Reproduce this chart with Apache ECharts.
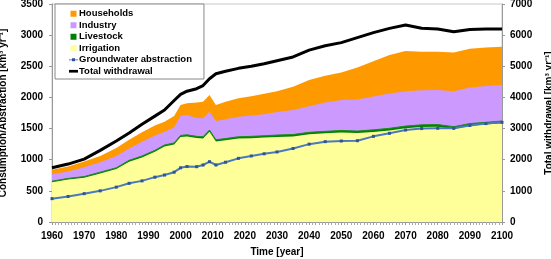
<!DOCTYPE html>
<html>
<head>
<meta charset="utf-8">
<script src="https://cdn.jsdelivr.net/npm/echarts@6/dist/echarts.min.js"></script>
<style>
html,body{margin:0;padding:0;background:#fff;}
#c{width:551px;height:259px;}
</style>
</head>
<body>
<div id="c"></div>
<script>
// Years of the sampled points
var years = [1960,1965,1970,1975,1980,1984,1988,1992,1995,1998,2000,2002,2005,2007,2009,2011,2014,2018,2022,2026,2030,2035,2040,2045,2050,2055,2060,2065,2070,2075,2080,2085,2090,2095,2100];
// Components of consumption (km3/yr), stacked: irrigation, livestock, industry, households
var irrigation = [640,683,712,780,849,968,1037,1126,1211,1245,1364,1374,1348,1342,1449,1292,1311,1340,1345,1355,1365,1374,1408,1423,1437,1427,1446,1470,1505,1525,1530,1494,1544,1564,1584];
var livestock  = [15,17,18,20,21,22,23,24,25,25,26,26,27,27,28,28,29,29,30,30,31,31,32,32,33,33,34,34,35,35,35,36,36,36,37];
var industry   = [110,110,150,160,190,190,230,240,213,250,310,317,295,295,294,300,310,321,335,345,369,393,420,465,488,505,535,561,560,555,555,570,580,585,579];
var households = [75,80,90,100,130,140,150,160,161,180,180,188,250,267,267,260,280,295,310,330,335,374,420,430,442,515,565,615,644,620,615,620,620,615,614];
// Groundwater abstraction (km3/yr, left axis)
var groundwater = [375,410,455,500,560,621,660,720,754,800,870,890,888,915,968,915,960,1022,1060,1095,1125,1180,1250,1290,1300,1305,1375,1424,1477,1500,1505,1504,1550,1580,1600];
// Total withdrawal (km3/yr, right axis)
var totalWithdrawal = [1740,1860,2020,2300,2600,2860,3140,3400,3596,3900,4100,4200,4280,4380,4600,4760,4840,4934,5000,5080,5180,5300,5520,5660,5760,5920,6080,6218,6324,6220,6200,6108,6180,6200,6196];

function pairs(v){ return years.map(function(y,i){ return [y, v[i]]; }); }
function cum(){ var arrs = arguments; return years.map(function(y,i){ var s=0; for(var k=0;k<arrs.length;k++) s+=arrs[k][i]; return [y,s]; }); }

var font = 'Liberation Sans, Arial, sans-serif';
var sq = 'path://M0,0H5V5H0Z';
function lbl(m){ return {fontFamily:font,fontWeight:'bold',fontSize:10,color:'#000',margin:m,formatter:function(v){return String(v);}}; }
var nameStyle = {fontFamily:font,fontWeight:'bold',fontSize:10,color:'#000'};
var chart = echarts.init(document.getElementById('c'), null, {renderer:'canvas'});
chart.setOption({
  animation:false,
  backgroundColor:'#fff',
  textStyle:{fontFamily:font},
  grid:{left:52,right:49,top:4,bottom:37,show:true,borderColor:'#c8c8c8',borderWidth:1,backgroundColor:'transparent',
        containLabel:false,outerBoundsMode:'none'},
  legend:{
    orient:'vertical', left:55, top:4,
    padding:[4,12,2,14], itemGap:0, itemWidth:9, itemHeight:6,
    backgroundColor:'#fff', borderColor:'#888', borderWidth:1,
    textStyle:{fontFamily:font,fontWeight:'bold',fontSize:9.5,color:'#000',lineHeight:11.5,padding:[0,0,0,-4]},
    data:[
      {name:'Households',icon:sq},
      {name:'Industry',icon:sq},
      {name:'Livestock',icon:sq},
      {name:'Irrigation',icon:sq},
      {name:'Groundwater abstraction',icon:'path://M0,2H12V3H0Z M4,0.5H8V4.5H4Z'},
      {name:'Total withdrawal',icon:'path://M0,0H10V3H0Z'}
    ]
  },
  xAxis:{
    type:'value', min:1960, max:2100, interval:10,
    name:'Time [year]', nameLocation:'middle', nameGap:25, nameTextStyle:nameStyle,
    axisLine:{show:true,lineStyle:{color:'#999'}},
    axisTick:{show:true,length:3,lineStyle:{color:'#999'}},
    minorTick:{show:true,splitNumber:10,length:3,lineStyle:{color:'#aaa'}},
    splitLine:{show:false},
    axisLabel:lbl(9)
  },
  yAxis:[{
    type:'value', min:0, max:3500, interval:500,
    name:'Consumption/Abstraction [km³ yr⁻¹]', nameLocation:'middle', nameGap:44, nameTextStyle:nameStyle,
    axisLine:{show:true,lineStyle:{color:'#999'}},
    axisTick:{show:true,length:3,lineStyle:{color:'#999'}},
    splitLine:{show:false},
    axisLabel:lbl(9)
  },{
    type:'value', min:0, max:7000, interval:1000, position:'right',
    name:'Total withdrawal [km³ yr⁻¹]', nameLocation:'middle', nameGap:42, nameTextStyle:nameStyle,
    axisLine:{show:true,lineStyle:{color:'#999'}},
    axisTick:{show:true,length:3,lineStyle:{color:'#999'}},
    splitLine:{show:false},
    axisLabel:lbl(8)
  }],
  series:[
    {name:'Households',type:'line',data:cum(irrigation,livestock,industry,households),showSymbol:false,symbol:'none',
     lineStyle:{width:0},areaStyle:{color:'#FF9900',opacity:1},itemStyle:{color:'#FF9900'}},
    {name:'Industry',type:'line',data:cum(irrigation,livestock,industry),showSymbol:false,symbol:'none',
     lineStyle:{width:0},areaStyle:{color:'#CC99FF',opacity:1},itemStyle:{color:'#CC99FF'}},
    {name:'Livestock',type:'line',data:cum(irrigation,livestock),showSymbol:false,symbol:'none',
     lineStyle:{width:1,color:'#1E8C1E'},areaStyle:{color:'#008000',opacity:1},itemStyle:{color:'#008000'}},
    {name:'Irrigation',type:'line',data:cum(irrigation),showSymbol:false,symbol:'none',
     lineStyle:{width:0},areaStyle:{color:'#FFFF99',opacity:1},itemStyle:{color:'#FFFF99'}},
    {name:'Groundwater abstraction',type:'line',data:pairs(groundwater),symbol:'rect',symbolSize:3,showSymbol:true,
     lineStyle:{width:2,color:'#4A79C0'},itemStyle:{color:'#2F5597'}},
    {name:'Total withdrawal',type:'line',yAxisIndex:1,data:pairs(totalWithdrawal),symbol:'none',showSymbol:false,
     lineStyle:{width:3,color:'#000'},itemStyle:{color:'#000'}}
  ]
});
</script>
</body>
</html>
